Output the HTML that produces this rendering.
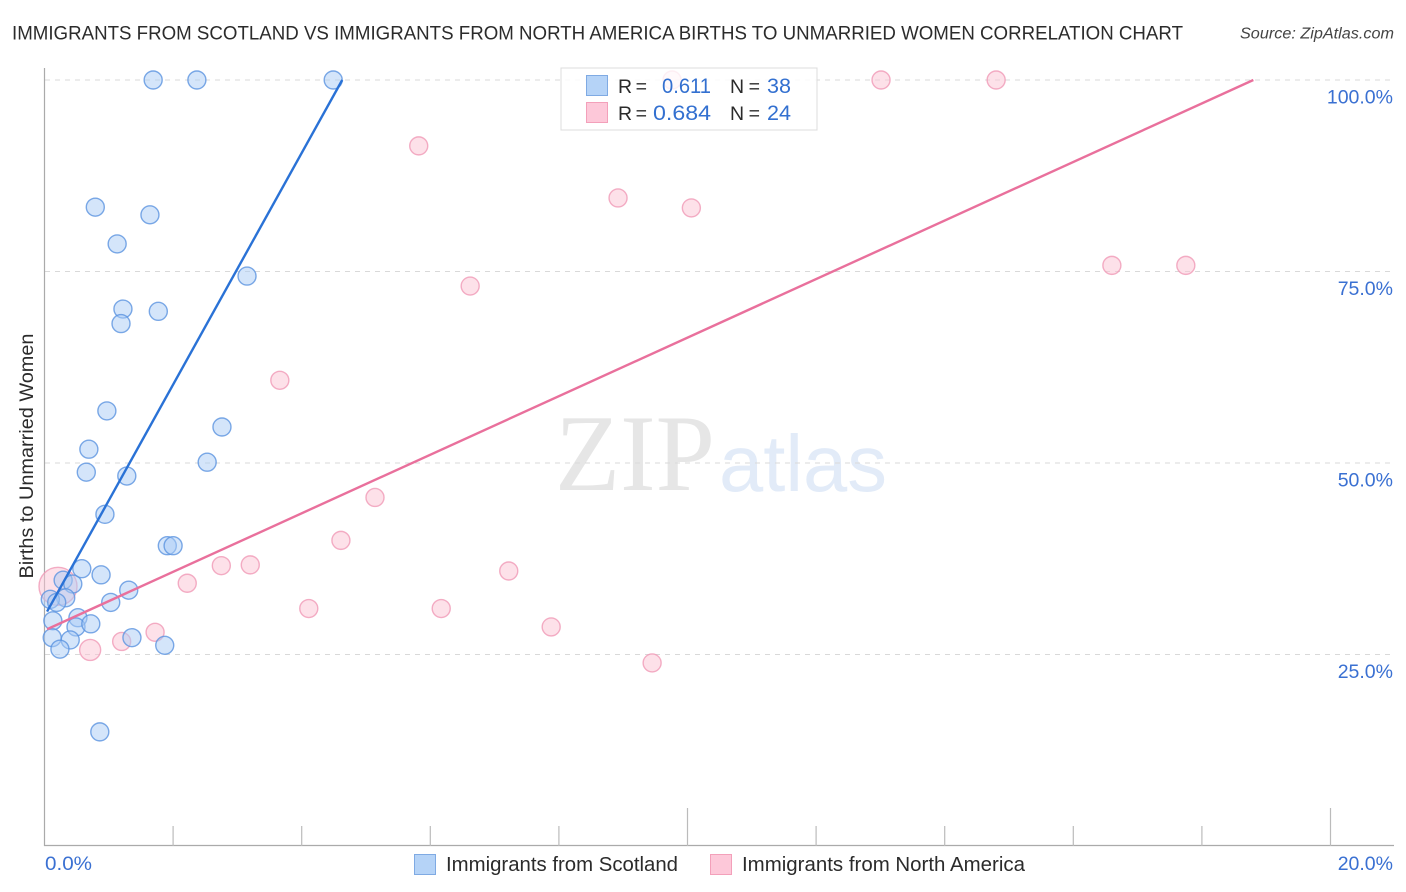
<!DOCTYPE html>
<html lang="en">
<head>
<meta charset="utf-8">
<title>Immigrants from Scotland vs Immigrants from North America Births to Unmarried Women Correlation Chart</title>
<style>
html,body{margin:0;padding:0;background:#fff;}
svg{display:block;font-family:"Liberation Sans",sans-serif;}
</style>
</head>
<body>
<svg id="chart" xmlns="http://www.w3.org/2000/svg" width="1406" height="892" viewBox="0 0 1406 892">
  <g id="watermark">
    <text x="555" y="490" font-family="'Liberation Serif',serif" font-size="109" fill="#e6e6e6" textLength="160" lengthAdjust="spacingAndGlyphs">ZIP</text>
    <text x="719" y="491" font-size="80" fill="#e2ebf8" textLength="168" lengthAdjust="spacingAndGlyphs">atlas</text>
  </g>
  <g id="grid"></g>
  <g id="axes"></g>
  <g id="pts-p"></g>
  <g id="pts-b"></g>
  <g id="lines"></g>
  <g id="labels"></g>

  <text x="12" y="39.5" font-size="19.5" fill="#2b2b2b" textLength="1171" lengthAdjust="spacingAndGlyphs">IMMIGRANTS FROM SCOTLAND VS IMMIGRANTS FROM NORTH AMERICA BIRTHS TO UNMARRIED WOMEN CORRELATION CHART</text>
  <text x="1394" y="38.5" font-size="15.5" font-style="italic" fill="#444" text-anchor="end" textLength="154" lengthAdjust="spacingAndGlyphs">Source: ZipAtlas.com</text>
  <text transform="translate(33,456) rotate(-90)" font-size="19" fill="#2b2b2b" text-anchor="middle" textLength="245" lengthAdjust="spacingAndGlyphs">Births to Unmarried Women</text>

  <g>
    <rect x="561" y="68" width="256" height="62" fill="#fff" fill-opacity="0.8" stroke="#dcdcdc" stroke-width="1"/>
    <rect x="586.5" y="75.5" width="21" height="20" fill="#b5d3f7" stroke="#7faae3"/>
    <rect x="586.5" y="102.5" width="21" height="20" fill="#fdc8d9" stroke="#f3a0ba"/>
    <text x="618" y="93" font-size="19.5" fill="#2b2b2b" textLength="29" lengthAdjust="spacing">R =</text>
    <text x="711" y="93" font-size="21" fill="#3370d0" text-anchor="end" textLength="49" lengthAdjust="spacingAndGlyphs">0.611</text>
    <text x="730" y="93" font-size="19.5" fill="#2b2b2b" textLength="30" lengthAdjust="spacing">N =</text>
    <text x="791" y="93" font-size="21" fill="#3370d0" text-anchor="end" textLength="24" lengthAdjust="spacingAndGlyphs">38</text>
    <text x="618" y="120" font-size="19.5" fill="#2b2b2b" textLength="29" lengthAdjust="spacing">R =</text>
    <text x="711" y="120" font-size="21" fill="#3370d0" text-anchor="end" textLength="58" lengthAdjust="spacingAndGlyphs">0.684</text>
    <text x="730" y="120" font-size="19.5" fill="#2b2b2b" textLength="30" lengthAdjust="spacing">N =</text>
    <text x="791" y="120" font-size="21" fill="#3370d0" text-anchor="end" textLength="24" lengthAdjust="spacingAndGlyphs">24</text>
  </g>

  <g>
    <rect x="414.5" y="854.5" width="21" height="20" fill="#b5d3f7" stroke="#7faae3"/>
    <text x="446" y="871" font-size="20" fill="#2b2b2b" textLength="232" lengthAdjust="spacingAndGlyphs">Immigrants from Scotland</text>
  </g>
  <g>
    <rect x="710.5" y="854.5" width="21" height="20" fill="#fdc8d9" stroke="#f3a0ba"/>
    <text x="742" y="871" font-size="20" fill="#2b2b2b" textLength="283" lengthAdjust="spacingAndGlyphs">Immigrants from North America</text>
  </g>
</svg>
<script>
// Values are percentages: x = share from origin group, y = births to unmarried women.
var xTickValues = [0, 2, 4, 6, 8, 10, 12, 14, 16, 18, 20];
var xTickLabels = ["0.0%", "20.0%"];
var yTickValues = [25, 50, 75, 100];
var yTickLabels = ["25.0%", "50.0%", "75.0%", "100.0%"];

var scotlandX = [1.69, 2.37, 4.49, 0.79, 1.64, 1.13, 3.15, 1.22, 1.77, 1.19, 0.97, 2.76, 0.69, 2.53, 0.65, 1.28, 0.94, 1.91, 2.0, 0.58, 0.88, 0.29, 0.44, 1.31, 0.33, 1.03, 0.09, 0.19, 0.13, 0.52, 0.49, 0.72, 0.12, 0.4, 1.36, 0.24, 1.87, 0.86];
var scotlandY = [100, 100, 100, 83.4, 82.4, 78.6, 74.4, 70.1, 69.8, 68.2, 56.8, 54.7, 51.8, 50.1, 48.8, 48.3, 43.3, 39.2, 39.2, 36.2, 35.4, 34.7, 34.2, 33.4, 32.4, 31.8, 32.2, 31.8, 29.4, 29.8, 28.6, 29, 27.2, 26.9, 27.2, 25.7, 26.2, 14.9];
var scotlandR = [9, 9, 9, 9, 9, 9, 9, 9, 9, 9, 9, 9, 9, 9, 9, 9, 9, 9, 9, 9, 9, 9, 9, 9, 9, 9, 9, 9, 9, 9, 9, 9, 9, 9, 9, 9, 9, 9];

var northAmericaX = [9.76, 13.01, 14.8, 5.82, 8.92, 10.06, 16.6, 17.75, 6.62, 3.66, 5.14, 4.61, 3.2, 2.75, 7.22, 2.22, 0.21, 4.11, 6.17, 7.88, 1.72, 1.2, 0.71, 9.45];
var northAmericaY = [100, 100, 100, 91.4, 84.6, 83.3, 75.8, 75.8, 73.1, 60.8, 45.5, 39.9, 36.7, 36.6, 35.9, 34.3, 33.9, 31, 31, 28.6, 27.9, 26.7, 25.6, 23.9];
var northAmericaR = [9, 9, 9, 9, 9, 9, 9, 9, 9, 9, 9, 9, 9, 9, 9, 9, 19, 9, 9, 9, 9, 9, 10.5, 9];

var scotlandTrendX = [0.04, 4.63];
var scotlandTrendY = [30.6, 100];
var northAmericaTrendX = [0.04, 18.8];
var northAmericaTrendY = [28.3, 100];

var NS = 'http://www.w3.org/2000/svg';
function xScale(v) { return 44.5 + v * 64.3; }
function yScale(v) { return 846 - v * 7.66; }
function make(tag, attrs, parent) {
  var el = document.createElementNS(NS, tag);
  for (var k in attrs) { el.setAttribute(k, attrs[k]); }
  parent.appendChild(el);
  return el;
}

var grid = document.getElementById('grid');
yTickValues.forEach(function (v) {
  var line = make('line', { x1: 45, x2: 1393, y1: yScale(v), y2: yScale(v), stroke: '#d9d9d9', 'stroke-width': 1, 'stroke-dasharray': '5 5' }, grid);
  
  
});

var axes = document.getElementById('axes');
var yAxis = make('line', { x1: 44.5, x2: 44.5, y1: 68, y2: 846, stroke: '#aaa', 'stroke-width': 1.2 }, axes);


var xAxis = make('line', { x1: 44, x2: 1394, y1: 845.5, y2: 845.5, stroke: '#aaa', 'stroke-width': 1.2 }, axes);


xTickValues.forEach(function (v) {
  if (v === 0) { return; }
  var major = v % 10 === 0;
  var tick = make('line', { x1: xScale(v), x2: xScale(v), y1: major ? 808 : 826, y2: 846, stroke: '#bbb', 'stroke-width': 1.2 }, axes);
  
  
});

function drawPoints(group, xs, ys, rs, fill, stroke, name) {
  xs.forEach(function (x, i) {
    var c = make('circle', { cx: xScale(x), cy: yScale(ys[i]), r: rs[i], fill: fill, 'fill-opacity': 0.5, stroke: stroke, 'stroke-opacity': 0.8, 'stroke-width': 1.4 }, group);
    
    
  });
}
drawPoints(document.getElementById('pts-p'), northAmericaX, northAmericaY, northAmericaR, '#fbc3d3', '#f09ab6', 'north-america-point');
drawPoints(document.getElementById('pts-b'), scotlandX, scotlandY, scotlandR, '#a9cbf5', '#5b94e0', 'scotland-point');

var lines = document.getElementById('lines');
var t1 = make('line', { x1: xScale(scotlandTrendX[0]), y1: yScale(scotlandTrendY[0]), x2: xScale(scotlandTrendX[1]), y2: yScale(scotlandTrendY[1]), stroke: '#2a72d6', 'stroke-width': 2.4 }, lines);


var t2 = make('line', { x1: xScale(northAmericaTrendX[0]), y1: yScale(northAmericaTrendY[0]), x2: xScale(northAmericaTrendX[1]), y2: yScale(northAmericaTrendY[1]), stroke: '#e9709c', 'stroke-width': 2.4 }, lines);



var labels = document.getElementById('labels');
yTickValues.forEach(function (v, i) {
  var t = make('text', { x: 1393, y: yScale(v) + 23.5, 'font-size': 19.5, fill: '#3a70d2', 'text-anchor': 'end' }, labels);
  t.textContent = yTickLabels[i];
  
  
});
var x0 = make('text', { x: 45, y: 870, 'font-size': 19.5, fill: '#3a70d2', textLength: 47, lengthAdjust: 'spacingAndGlyphs' }, labels);
x0.textContent = xTickLabels[0];


var x1 = make('text', { x: 1393, y: 870, 'font-size': 19.5, fill: '#3a70d2', 'text-anchor': 'end' }, labels);
x1.textContent = xTickLabels[1];


</script>
</body>
</html>
